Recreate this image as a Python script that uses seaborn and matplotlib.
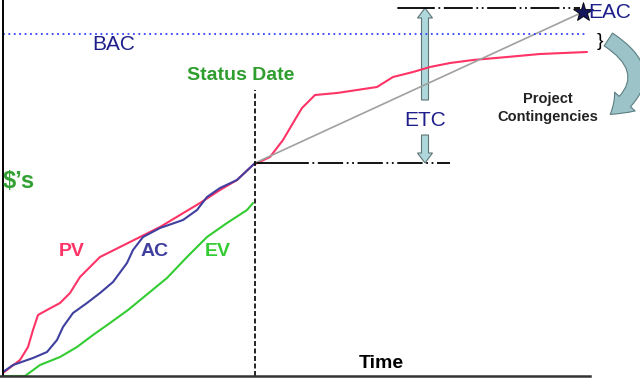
import matplotlib
matplotlib.use("Agg")
import matplotlib.pyplot as plt
import seaborn as sns
from matplotlib.patches import FancyArrowPatch

# time units along x, dollars up y (both)
pv_t = [0, 17, 25, 30, 35, 44, 57, 67, 77, 87, 97, 117, 137, 157, 177, 197, 217, 234, 250,
        267, 280, 290, 299, 312, 334, 354, 374, 390, 410, 427, 447, 470, 504, 537, 584]
pv_v = [3, 16, 29, 46, 61, 66, 73, 83, 99, 109, 119, 129, 139, 149, 161, 173, 186, 196, 211,
        219, 236, 253, 268, 281, 283, 286, 289, 299, 304, 309, 313, 316, 319, 322, 324]

ac_t = [0, 10, 30, 44, 54, 60, 70, 84, 97, 110, 124, 130, 140, 157, 180, 194, 204, 217, 234, 252]
ac_v = [4, 11, 18, 24, 36, 49, 63, 73, 83, 94, 113, 126, 139, 148, 156, 166, 179, 188, 196, 213]

ev_t = [0, 22, 37, 57, 74, 90, 107, 125, 164, 184, 204, 224, 244, 250]
ev_v = [0, 0, 11, 19, 29, 41, 53, 66, 98, 119, 139, 153, 166, 173]

status_date = 252
bac = 342
eac = 368
eac_t = 580
eac_star = 364
etc_t = 422
end_t = 584

sns.set_theme(style="white")
plt.rcParams["font.family"] = ["Liberation Sans", "DejaVu Sans"]

fig = plt.figure(figsize=(6.4, 3.78), dpi=100)
ax = fig.add_axes([0, 0, 1, 1])

# S-curves
sns.lineplot(x=pv_t, y=pv_v, color="#FF3366", lw=1.5, ax=ax)
sns.lineplot(x=ac_t, y=ac_v, color="#3F3FA0", lw=1.5, ax=ax)
sns.lineplot(x=ev_t, y=ev_v, color="#33CC33", lw=1.5, ax=ax)

# projection to EAC
ax.plot([status_date, eac_t], [ac_v[-1], eac_star], color="#A0A0A0", lw=1.2)
ax.plot(eac_t, eac_star, marker="*", ms=15, color="#15155E", mec="#000000", mew=0.6)

# BAC line
ax.plot([0, end_t], [bac, bac], color="#3344FF", lw=1.3, ls=(0, (1, 2)))

# status date
ax.plot([status_date, status_date], [0, 286], color="black", lw=1.2, ls=(0, (3, 1.5)))

# reference lines for ETC
ax.plot([status_date + 2, 304], [ac_v[-1], ac_v[-1]], color="black", lw=1.3)
ax.plot([304, 447], [ac_v[-1], ac_v[-1]], color="black", lw=1.3, ls=(0, (1, 2, 1, 2, 14, 2)))
ax.plot([395, 430], [eac, eac], color="black", lw=1.3)
ax.plot([430, eac_t - 3], [eac, eac], color="black", lw=1.3, ls=(0, (1, 2, 1, 2, 16, 2)))

# ETC double arrow, split around label
ax.arrow(etc_t, 276, 0, eac - 276, width=7, head_width=15, head_length=10,
         length_includes_head=True, fc="#AED8DC", ec="#5F7475", lw=0.8)
ax.arrow(etc_t, 241, 0, ac_v[-1] - 241, width=7, head_width=15, head_length=10,
         length_includes_head=True, fc="#AED8DC", ec="#5F7475", lw=0.8)

# contingency arrow
ax.add_patch(FancyArrowPatch((603, 338), (605, 260), connectionstyle="arc3,rad=-0.75",
                             arrowstyle="simple,head_length=14,head_width=20,tail_width=11",
                             fc="#9CC4C8", ec="#5B7C80", lw=0.8))

# labels
navy = "#1F1F8C"
ax.text(111, 331, "BAC", color=navy, fontsize=15, ha="center", va="center")
ax.text(238, 301, "Status Date", color="#2E9E2E", fontsize=14, fontweight="bold",
        ha="center", va="center")
ax.text(0, 194, "$\u2019s", color="#33A033", fontsize=17, fontweight="bold",
        ha="left", va="center")
ax.text(69, 124, "PV", color="#FF3366", fontsize=14, fontweight="bold", ha="center", va="center")
ax.text(152, 124, "AC", color="#3F3FA0", fontsize=14, fontweight="bold", ha="center", va="center")
ax.text(215, 124, "EV", color="#33CC33", fontsize=14, fontweight="bold", ha="center", va="center")
ax.text(378, 12, "Time", color="black", fontsize=14, fontweight="bold", ha="center", va="center")
ax.text(etc_t, 256, "ETC", color=navy, fontsize=15, ha="center", va="center")
ax.text(585, 363, "EAC", color=navy, fontsize=15, ha="left", va="center")
ax.text(597, 334, "}", color="black", fontsize=14, ha="center", va="center")
ax.text(545, 277, "Project", color="#222222", fontsize=10.5, fontweight="bold",
        ha="center", va="center")
ax.text(545, 259, "Contingencies", color="#222222", fontsize=10.5, fontweight="bold",
        ha="center", va="center")

ax.set_xlim(-3, 637)
ax.set_ylim(-2, 376)
ax.set_xticks([])
ax.set_yticks([])
sns.despine(ax=ax, top=True, right=True)
ax.spines["left"].set_position(("data", 0))
ax.spines["bottom"].set_position(("data", 0))
ax.spines["left"].set_bounds(0, 376)
ax.spines["bottom"].set_bounds(-3, 587)
ax.spines["left"].set_color("black")
ax.spines["bottom"].set_color("#333333")
ax.spines["left"].set_linewidth(1.4)
ax.spines["bottom"].set_linewidth(1.8)

fig.savefig("out.png", dpi=100)
